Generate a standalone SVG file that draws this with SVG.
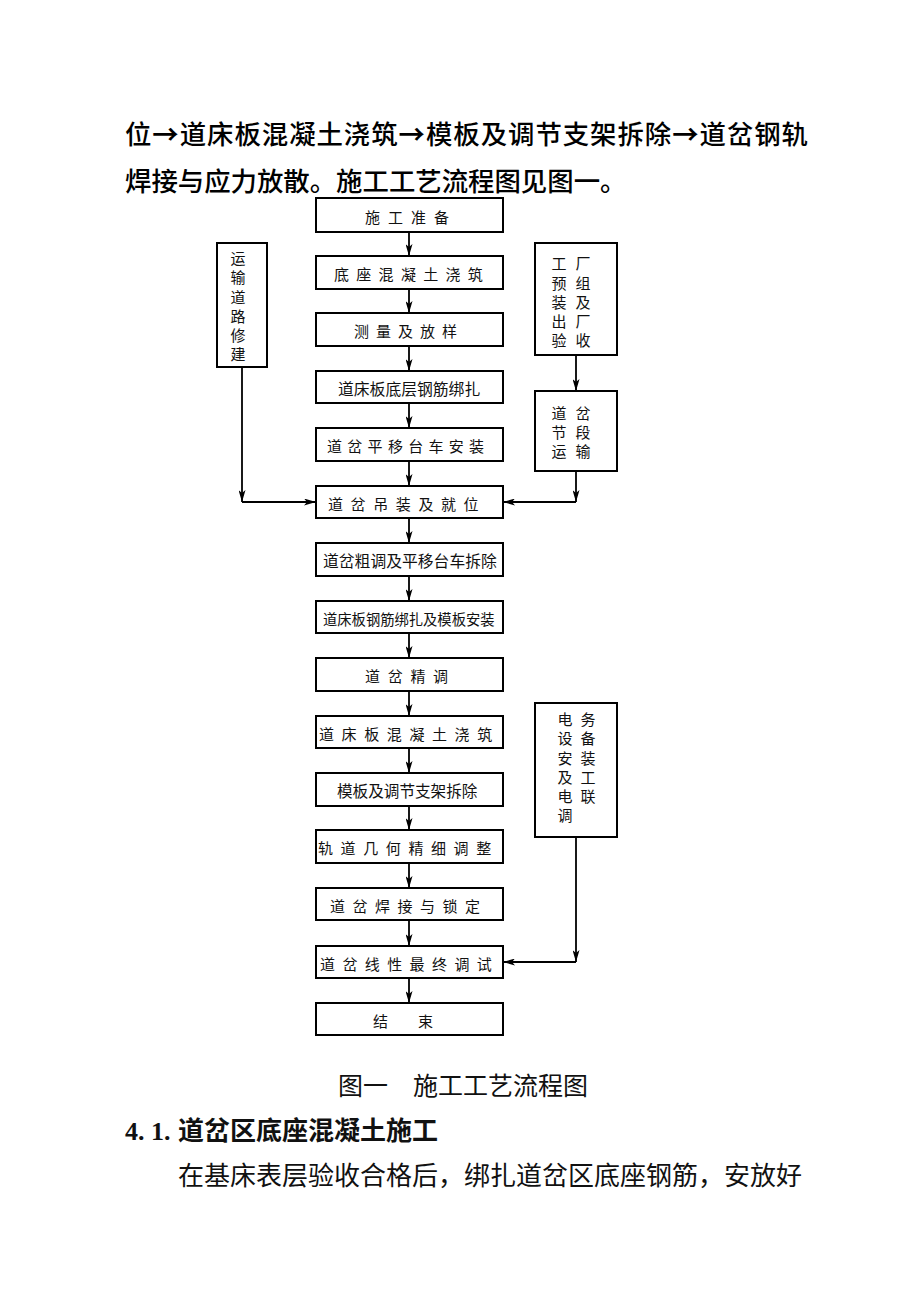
<svg xmlns="http://www.w3.org/2000/svg" width="920" height="1306" viewBox="0 0 920 1306">
<style>
.box{fill:#fff;stroke:#000;stroke-width:2}
.ln{fill:none;stroke:#000;stroke-width:1.8}
.t{font-family:"Noto Sans CJK SC","Liberation Serif",sans-serif;font-size:15px;fill:#111;dominant-baseline:central}
.v{font-family:"Noto Sans CJK SC","Liberation Serif",sans-serif;font-size:15px;fill:#111;text-anchor:middle;dominant-baseline:central}
.para{font-family:"Noto Sans CJK SC",sans-serif;font-size:26.4px;font-weight:500;fill:#000}
.serif{font-family:"Liberation Serif","Noto Sans CJK SC",serif;font-size:26px;fill:#111}
</style>
<defs>
<marker id="ah" markerUnits="userSpaceOnUse" markerWidth="12" markerHeight="7" refX="12" refY="3.5" orient="auto">
<path d="M0,0 L12,3.5 L0,7 L3,3.5 z" fill="#000"/>
</marker>
</defs>
<rect width="920" height="1306" fill="#fff"/>

<g id="intro">
<text class="para" x="125" y="144" textLength="683" lengthAdjust="spacing">位<tspan font-weight="bold">→</tspan>道床板混凝土浇筑<tspan font-weight="bold">→</tspan>模板及调节支架拆除<tspan font-weight="bold">→</tspan>道岔钢轨</text>
<text class="para" x="125" y="191">焊接与应力放散。施工工艺流程图见图一。</text>
</g>

<g id="connectors">
<path class="ln" d="M409,232 V256" marker-end="url(#ah)"/>
<path class="ln" d="M409,289 V313" marker-end="url(#ah)"/>
<path class="ln" d="M409,346 V371" marker-end="url(#ah)"/>
<path class="ln" d="M409,403 V428" marker-end="url(#ah)"/>
<path class="ln" d="M409,461 V486" marker-end="url(#ah)"/>
<path class="ln" d="M409,518 V543" marker-end="url(#ah)"/>
<path class="ln" d="M409,576 V601" marker-end="url(#ah)"/>
<path class="ln" d="M409,633 V658" marker-end="url(#ah)"/>
<path class="ln" d="M409,691 V716" marker-end="url(#ah)"/>
<path class="ln" d="M409,748 V773" marker-end="url(#ah)"/>
<path class="ln" d="M409,806 V830" marker-end="url(#ah)"/>
<path class="ln" d="M409,863 V888" marker-end="url(#ah)"/>
<path class="ln" d="M409,920 V946" marker-end="url(#ah)"/>
<path class="ln" d="M409,978 V1003" marker-end="url(#ah)"/>
<path class="ln" d="M242,367 V502" marker-end="url(#ah)"/>
<path class="ln" d="M242,502 H316" marker-end="url(#ah)"/>
<path class="ln" d="M576,355 V391" marker-end="url(#ah)"/>
<path class="ln" d="M576,471 V502" marker-end="url(#ah)"/>
<path class="ln" d="M576,502 H503" marker-end="url(#ah)"/>
<path class="ln" d="M576,837 V962" marker-end="url(#ah)"/>
<path class="ln" d="M576,962 H503" marker-end="url(#ah)"/>
</g>

<g id="n1"><rect class="box" x="316" y="198" width="187" height="34"/><text class="t" x="365" y="216" letter-spacing="8">施工准备</text></g>
<g id="n2"><rect class="box" x="316" y="256" width="187" height="33"/><text class="t" x="334" y="273" letter-spacing="7.3">底座混凝土浇筑</text></g>
<g id="n3"><rect class="box" x="316" y="313" width="187" height="33"/><text class="t" x="354" y="330" letter-spacing="7">测量及放样</text></g>
<g id="n4"><rect class="box" x="316" y="371" width="187" height="32"/><text class="t" x="338" y="388" style="font-size:15.8px">道床板底层钢筋绑扎</text></g>
<g id="n5"><rect class="box" x="316" y="428" width="187" height="33"/><text class="t" x="327" y="445" letter-spacing="5.3">道岔平移台车安装</text></g>
<g id="n6"><rect class="box" x="316" y="486" width="187" height="32"/><text class="t" x="328" y="503" letter-spacing="7.6">道岔吊装及就位</text></g>
<g id="n7"><rect class="box" x="316" y="543" width="187" height="33"/><text class="t" x="323" y="560" style="font-size:15.8px">道岔粗调及平移台车拆除</text></g>
<g id="n8"><rect class="box" x="316" y="601" width="187" height="32"/><text class="t" x="323" y="618" style="font-size:14.3px">道床板钢筋绑扎及模板安装</text></g>
<g id="n9"><rect class="box" x="316" y="658" width="187" height="33"/><text class="t" x="365" y="675" letter-spacing="7.7">道岔精调</text></g>
<g id="n10"><rect class="box" x="316" y="716" width="187" height="32"/><text class="t" x="319" y="733" letter-spacing="7.6">道床板混凝土浇筑</text></g>
<g id="n11"><rect class="box" x="316" y="773" width="187" height="33"/><text class="t" x="337" y="790" style="font-size:15.6px">模板及调节支架拆除</text></g>
<g id="n12"><rect class="box" x="316" y="830" width="187" height="33"/><text class="t" x="318" y="847" letter-spacing="7.6">轨道几何精细调整</text></g>
<g id="n13"><rect class="box" x="316" y="888" width="187" height="32"/><text class="t" x="330" y="905" letter-spacing="7.5">道岔焊接与锁定</text></g>
<g id="n14"><rect class="box" x="316" y="946" width="187" height="32"/><text class="t" x="320" y="963" letter-spacing="7.4">道岔线性最终调试</text></g>
<g id="n15"><rect class="box" x="316" y="1003" width="187" height="32"/><text class="t" x="373" y="1020" letter-spacing="30">结束</text></g>

<g id="road">
<rect class="box" x="217" y="243" width="50" height="124"/>
<text class="v" x="238" y="257">运</text>
<text class="v" x="238" y="276">输</text>
<text class="v" x="238" y="296">道</text>
<text class="v" x="238" y="315">路</text>
<text class="v" x="238" y="334">修</text>
<text class="v" x="238" y="353">建</text>
</g>

<g id="factory">
<rect class="box" x="535" y="243" width="82" height="112"/>
<text class="v" x="559" y="262">工</text><text class="v" x="583" y="262">厂</text>
<text class="v" x="559" y="282">预</text><text class="v" x="583" y="282">组</text>
<text class="v" x="559" y="301">装</text><text class="v" x="583" y="301">及</text>
<text class="v" x="559" y="320">出</text><text class="v" x="583" y="320">厂</text>
<text class="v" x="559" y="339">验</text><text class="v" x="583" y="339">收</text>
</g>

<g id="transport">
<rect class="box" x="535" y="391" width="82" height="80"/>
<text class="v" x="559" y="412">道</text><text class="v" x="583" y="412">岔</text>
<text class="v" x="559" y="431">节</text><text class="v" x="583" y="431">段</text>
<text class="v" x="559" y="450">运</text><text class="v" x="583" y="450">输</text>
</g>

<g id="electric">
<rect class="box" x="535" y="703" width="82" height="134"/>
<text class="v" x="565" y="718">电</text><text class="v" x="588" y="718">务</text>
<text class="v" x="565" y="737">设</text><text class="v" x="588" y="737">备</text>
<text class="v" x="565" y="757">安</text><text class="v" x="588" y="757">装</text>
<text class="v" x="565" y="776">及</text><text class="v" x="588" y="776">工</text>
<text class="v" x="565" y="795">电</text><text class="v" x="588" y="795">联</text>
<text class="v" x="565" y="814">调</text>
</g>

<g id="caption">
<text class="serif" x="338" y="1095" style="font-size:25px">图一　施工工艺流程图</text>
</g>
<g id="heading">
<text class="serif" y="1140" font-weight="bold"><tspan x="125">4.</tspan><tspan x="151">1.</tspan><tspan x="178">道岔区底座混凝土施工</tspan></text>
</g>
<g id="body">
<text class="serif" x="178" y="1185">在基床表层验收合格后，绑扎道岔区底座钢筋，安放好</text>
</g>
</svg>
